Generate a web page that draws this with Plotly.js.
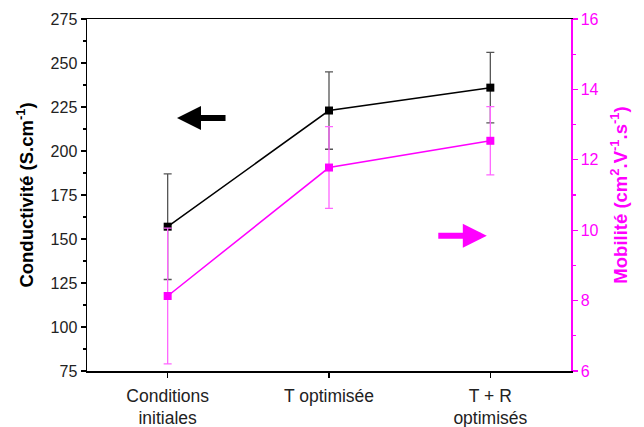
<!DOCTYPE html>
<html><head><meta charset="utf-8">
<script src="https://cdn.plot.ly/plotly-3.0.1.min.js"></script>
<style>html,body{margin:0;padding:0;background:#fff}#c{width:644px;height:427px}</style>
</head><body><div id="c"></div>
<script>
const categories = ["Conditions<br>initiales", "T optimisée", "T + R<br>optimisés"];
const conductivite = [157, 223, 236];
const conductiviteErr = [30, 22, 20];
const mobilite = [8.13, 11.78, 12.54];
const mobiliteErr = [1.93, 1.16, 0.97];

const font = "Liberation Sans, Arial, sans-serif";
const mag = "#ff00ff";

const traces = [
  {x: categories, y: conductivite, type: "scatter", mode: "lines+markers", yaxis: "y",
   line: {color: "#000", width: 1.5}, marker: {symbol: "square", size: 8, color: "#000"},
   error_y: {type: "data", array: conductiviteErr, visible: true, color: "#555", thickness: 1.3, width: 4}},
  {x: categories, y: mobilite, type: "scatter", mode: "lines+markers", yaxis: "y2",
   line: {color: mag, width: 1.5}, marker: {symbol: "square", size: 8, color: mag},
   error_y: {type: "data", array: mobiliteErr, visible: true, color: "#ff66ff", thickness: 1.3, width: 4}}
];

const layout = {
  width: 644, height: 427,
  margin: {l: 87, r: 73, t: 19, b: 56},
  paper_bgcolor: "#fff", plot_bgcolor: "#fff",
  showlegend: false,
  font: {family: font, size: 16, color: "#000"},
  xaxis: {type: "category", range: [-0.5, 2.5], showgrid: false, zeroline: false,
    showline: true, linecolor: "#000", linewidth: 1.5, mirror: true,
    ticks: "outside", ticklen: 5, tickcolor: "#000", tickwidth: 1.2, ticklabelstandoff: 3,
    tickfont: {family: font, size: 17.5, color: "#222"}},
  yaxis: {range: [75, 275], tick0: 75, dtick: 25, showgrid: false, zeroline: false,
    showline: true, linecolor: "#000", linewidth: 1.5,
    ticks: "outside", ticklen: 5, tickcolor: "#000", tickwidth: 1.2,
    minor: {dtick: 12.5, ticks: "outside", ticklen: 3, tickcolor: "#000", showgrid: false},
    tickfont: {family: font, size: 16, color: "#222"},
    title: {text: "<b>Conductivité (S.cm<sup>-1</sup>)</b>", font: {family: font, size: 18.5, color: "#000"}, standoff: 12}},
  yaxis2: {overlaying: "y", side: "right", range: [6, 16], dtick: 2, showgrid: false, zeroline: false,
    showline: true, linecolor: mag, linewidth: 1.5,
    ticks: "outside", ticklen: 5, tickcolor: mag, tickwidth: 1.2,
    minor: {dtick: 1, ticks: "outside", ticklen: 3, tickcolor: mag, showgrid: false},
    tickfont: {family: font, size: 16, color: mag},
    title: {text: "<b>Mobilité (cm<sup>2</sup>.V<sup>-1</sup>.s<sup>-1</sup>)</b>", font: {family: font, size: 18.5, color: mag}, standoff: 16}},
  annotations: [
    {xref: "paper", yref: "paper", x: 0.186, y: 0.719, ax: 50, ay: 0, text: "", showarrow: true,
     arrowhead: 2, arrowsize: 0.8, arrowwidth: 6, arrowcolor: "#000"},
    {xref: "paper", yref: "paper", x: 0.826, y: 0.384, ax: -50, ay: 0, text: "", showarrow: true,
     arrowhead: 2, arrowsize: 0.8, arrowwidth: 6, arrowcolor: mag}
  ]
};
Plotly.newPlot("c", traces, layout, {displayModeBar: false, staticPlot: true});
</script></body></html>
